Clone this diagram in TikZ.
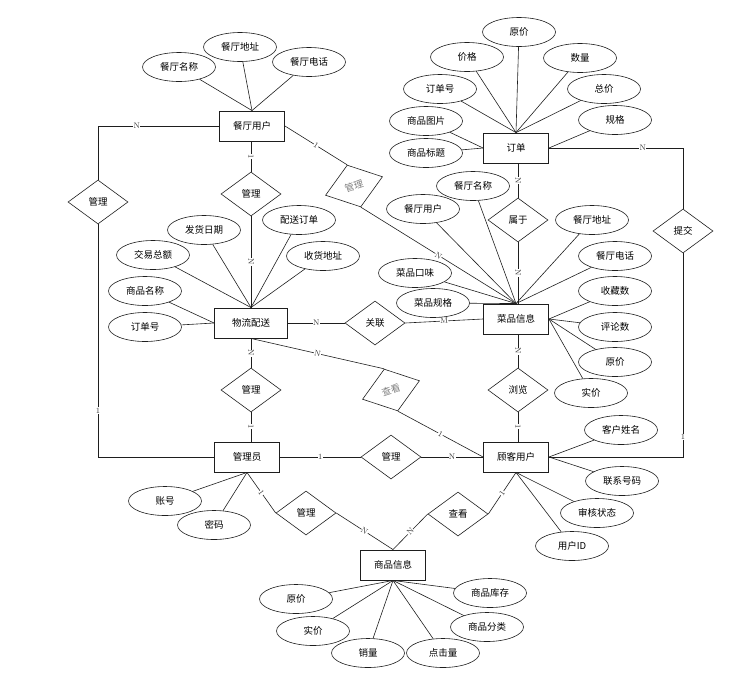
\documentclass[tikz,border=0pt]{standalone}
\usepackage{fontspec}
\newfontfamily\cjk{Noto Sans CJK SC}
\usepackage{tikz}
\usetikzlibrary{shapes.geometric}
\definecolor{ink}{HTML}{1E1E1E}
\definecolor{soft}{HTML}{7F7F7F}
\definecolor{tag}{HTML}{333333}
\tikzset{ent/.style={draw=ink,line width=.9pt,minimum width=65pt,minimum height=30pt,inner sep=1pt,font=\cjk\fontsize{9.5}{11}\selectfont},attr/.style={ellipse,draw=ink,line width=.6pt,minimum width=73pt,minimum height=29pt,inner sep=0pt,font=\cjk\fontsize{9.5}{11}\selectfont},rel/.style={diamond,draw=ink,line width=.6pt,minimum width=60pt,minimum height=44pt,inner sep=0pt,font=\cjk\fontsize{9.5}{11}\selectfont},link/.style={draw=ink,line width=.6pt},card/.style={fill=white,inner sep=.4pt,text=tag,font=\footnotesize,sloped},cardup/.style={fill=white,inner sep=.4pt,text=tag,font=\footnotesize}}

\begin{document}
\begin{tikzpicture}[x=1pt,y=-1pt]
\useasboundingbox (0,0) rectangle (733,697);
% entities
\node[ent] (rest) at (252,126) {餐厅用户};
\node[ent] (ord) at (516,148) {订单};
\node[ent,minimum width=73pt] (logi) at (251,323) {物流配送};
\node[ent] (dish) at (516,319) {菜品信息};
\node[ent] (adm) at (247,457) {管理员};
\node[ent] (cust) at (516,457) {顾客用户};
\node[ent] (goods) at (393,565) {商品信息};
% relations
\node[rel] (r1) at (98,202) {管理};
\node[rel] (r2) at (251,194) {管理};
\node[rel,rotate=18,text=soft] (r3) at (354,186) {管理};
\node[rel] (r4) at (683,231) {提交};
\node[rel] (r5) at (518,220) {属于};
\node[rel] (r6) at (375,323) {关联};
\node[rel] (r7) at (251,390) {管理};
\node[rel,rotate=18,text=soft] (r8) at (391,390) {查看};
\node[rel] (r9) at (518,390) {浏览};
\node[rel] (r10) at (391,457) {管理};
\node[rel] (r11) at (306,513) {管理};
\node[rel] (r12) at (458,514) {查看};
% attributes of 餐厅用户
\node[attr] (rn) at (179,67) {餐厅名称};
\node[attr] (ra) at (240,47) {餐厅地址};
\node[attr] (rt) at (309,62) {餐厅电话};
% attributes of 订单
\node[attr] (op) at (519,32) {原价};
\node[attr] (oq) at (467,57) {价格};
\node[attr] (on) at (580,58) {数量};
\node[attr] (oi) at (440,89) {订单号};
\node[attr] (ot) at (604,89) {总价};
\node[attr] (og) at (426,121) {商品图片};
\node[attr] (os) at (615,120) {规格};
\node[attr] (oh) at (426,153) {商品标题};
% attributes of 物流配送
\node[attr] (ld) at (204,230) {发货日期};
\node[attr] (lo) at (299,220) {配送订单};
\node[attr] (lt) at (153,255) {交易总额};
\node[attr] (la) at (323,256) {收货地址};
\node[attr] (ln) at (145,291) {商品名称};
\node[attr] (li) at (145,327) {订单号};
% attributes of 菜品信息
\node[attr] (dn) at (473,186) {餐厅名称};
\node[attr] (du) at (423,209) {餐厅用户};
\node[attr] (da) at (592,220) {餐厅地址};
\node[attr] (dt) at (615,256) {餐厅电话};
\node[attr] (dw) at (415,273) {菜品口味};
\node[attr] (dg) at (433,303) {菜品规格};
\node[attr] (dc) at (615,291) {收藏数};
\node[attr] (dr) at (615,327) {评论数};
\node[attr] (dp) at (615,362) {原价};
\node[attr] (dq) at (591,393) {实价};
% attributes of 管理员 and 顾客用户
\node[attr] (aa) at (165,501) {账号};
\node[attr] (ap) at (214,525) {密码};
\node[attr] (cn) at (621,430) {客户姓名};
\node[attr] (ct) at (622,481) {联系号码};
\node[attr] (cs) at (597,513) {审核状态};
\node[attr] (ci) at (572,546) {用户ID};
% attributes of 商品信息
\node[attr] (gp) at (296,599) {原价};
\node[attr] (gq) at (313,631) {实价};
\node[attr] (gs) at (368,653) {销量};
\node[attr] (gc) at (443,653) {点击量};
\node[attr] (gk) at (490,593) {商品库存};
\node[attr] (gt) at (487,627) {商品分类};
% attribute lines
\draw[link] (rn)--(rest.north); \draw[link] (ra)--(rest.north); \draw[link] (rt)--(rest.north);
\draw[link] (op)--(ord.north); \draw[link] (oq)--(ord.north); \draw[link] (on)--(ord.north); \draw[link] (oi)--(ord.north); \draw[link] (ot)--(ord.north);
\draw[link] (og)--(ord.west); \draw[link] (oh)--(ord.west); \draw[link] (os)--(ord.east);
\draw[link] (ld)--(logi.north); \draw[link] (lo)--(logi.north); \draw[link] (lt)--(logi.north); \draw[link] (la)--(logi.north);
\draw[link] (ln)--(logi.west); \draw[link] (li)--(logi.west);
\draw[link] (dn)--(dish.north); \draw[link] (du)--(dish.north); \draw[link] (da)--(dish.north); \draw[link] (dt)--(dish.north); \draw[link] (dw)--(dish.north); \draw[link] (dg)--(dish.north);
\draw[link] (dc)--(dish.east); \draw[link] (dr)--(dish.east); \draw[link] (dp)--(dish.east); \draw[link] (dq)--(dish.east);
\draw[link] (aa)--(adm.south); \draw[link] (ap)--(adm.south);
\draw[link] (cn)--(cust.east); \draw[link] (ct)--(cust.east); \draw[link] (cs)--(cust.south); \draw[link] (ci)--(cust.south);
\draw[link] (gp)--(goods.south); \draw[link] (gq)--(goods.south); \draw[link] (gs)--(goods.south); \draw[link] (gc)--(goods.south); \draw[link] (gk)--(goods.south); \draw[link] (gt)--(goods.south);
% relation lines
\draw[link] (rest.west) -| node[cardup,pos=.34]{N} (r1.north);
\draw[link] (r1.south) |- node[cardup,pos=.4]{1} (adm.west);
\draw[link] (rest.south -| r2) -- node[card]{1} (r2.north);
\draw[link] (r2.south) -- node[card]{N} (logi.north -| r2);
\draw[link] (rest.east) -- node[card]{1} (r3.north);
\draw[link] (r3.south) -- node[card]{N} (dish.north);
\draw[link] (ord.east) -| node[cardup,pos=.35]{N} (r4.north);
\draw[link] (r4.south) |- node[cardup,pos=.45]{1} (cust.east);
\draw[link] (ord.south -| r5) -- node[card]{N} (r5.north);
\draw[link] (r5.south) -- node[card]{N} (dish.north -| r5);
\draw[link] (logi.east) -- node[card]{N} (r6.west);
\draw[link] (r6.east) -- node[card]{M} (dish.west);
\draw[link] (logi.south -| r7) -- node[card]{N} (r7.north);
\draw[link] (r7.south) -- node[card]{1} (adm.north -| r7);
\draw[link] (logi.south) -- node[card]{N} (r8.north);
\draw[link] (r8.south) -- node[card]{1} (cust.west);
\draw[link] (dish.south -| r9) -- node[card]{N} (r9.north);
\draw[link] (r9.south) -- node[card]{1} (cust.north -| r9);
\draw[link] (adm.east) -- node[card]{1} (r10.west);
\draw[link] (r10.east) -- node[card]{N} (cust.west);
\draw[link] (adm.south) -- node[card]{1} (r11.west);
\draw[link] (r11.east) -- node[card]{N} (goods.north);
\draw[link] (goods.north) -- node[card]{N} (r12.west);
\draw[link] (r12.east) -- node[card]{1} (cust.south);
\end{tikzpicture}
\end{document}
